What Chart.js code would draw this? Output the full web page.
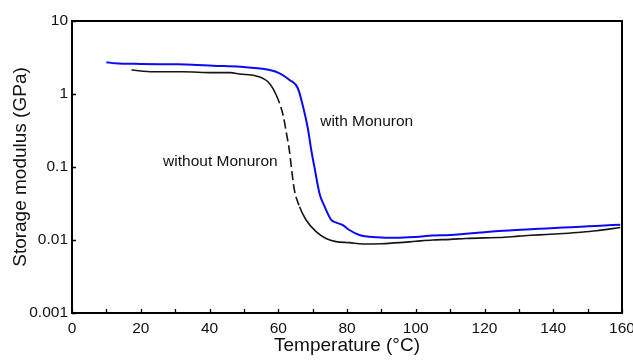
<!DOCTYPE html>
<html>
<head>
<meta charset="utf-8">
<script src="https://cdn.jsdelivr.net/npm/chart.js@4/dist/chart.umd.min.js"></script>
<style>
  html, body { margin: 0; padding: 0; background: #fff; }
  #wrap { width: 633px; height: 362px; position: relative; }
</style>
</head>
<body>
<div id="wrap"><canvas id="c" width="633" height="362"></canvas></div>
<script>
// ---- data ----
const withTemp = [10, 12.5, 20, 30, 35, 41, 49, 54, 57.5, 60.4, 63.3, 65.7, 67.1, 68.6, 69.6, 70.5, 72, 73.5, 75.4, 76.9, 78.8, 80.7, 83.6, 88.8, 94.3, 100, 104.9, 110, 114.6, 120, 124.3, 128, 133.5, 138, 143, 148, 152.5, 159.5];
const withModulus = [2.72, 2.64, 2.58, 2.55, 2.52, 2.44, 2.37, 2.25, 2.13, 1.92, 1.56, 1.2, 0.706, 0.339, 0.171, 0.101, 0.0435, 0.0286, 0.0188, 0.0173, 0.016, 0.0137, 0.0117, 0.0109, 0.0107, 0.0110, 0.0115, 0.0117, 0.0122, 0.0128, 0.0133, 0.0136, 0.0140, 0.0144, 0.0148, 0.0152, 0.0156, 0.0162];

const withoutTemp = [17.3, 23.6, 32.3, 41, 46, 48.8, 53.6, 57, 59.4, 61.4, 62.3, 63.3, 63.8, 64.7, 66.2, 68.1, 71, 73.9, 76.8, 80.7, 84.6, 90, 95.2, 100, 104.9, 110, 114.6, 120, 124.3, 130, 133.5, 138, 143, 148, 152.5, 159.5];
const withoutModulus = [2.13, 2.02, 2.02, 1.96, 1.96, 1.88, 1.77, 1.47, 0.97, 0.515, 0.305, 0.16, 0.1, 0.0484, 0.0286, 0.0188, 0.013, 0.0105, 0.0095, 0.0092, 0.0088, 0.0089, 0.0092, 0.0096, 0.0100, 0.0102, 0.0105, 0.0107, 0.0108, 0.0113, 0.0116, 0.0119, 0.0123, 0.0128, 0.0134, 0.0148];

const xTickValues = [0, 20, 40, 60, 80, 100, 120, 140, 160];
const xMinorTicks = [0, 10, 20, 30, 40, 50, 60, 70, 80, 90, 100, 110, 120, 130, 140, 150, 160];
const yTickValues = [0.001, 0.01, 0.1, 1, 10];
const yTickLabels = ['0.001', '0.01', '0.1', '1', '10'];

const seriesNames = ['with Monuron', 'without Monuron'];
const labelAnchorTemp = [72.2, 26.5];
const labelAnchorModulus = [0.365, 0.103];

// dashed part of the "without" curve (temperature range)
const dashedRange = [59, 66.5];

const FONT = '"Liberation Sans", Arial, sans-serif';

function pts(xs, ys) { return xs.map((x, i) => ({ x: x, y: ys[i] })); }

const framePlugin = {
  id: 'frame',
  afterDatasetsDraw(chart) {
    const ctx = chart.ctx;
    const a = chart.chartArea;
    const xs = chart.scales.x, ys = chart.scales.y;
    ctx.save();
    ctx.strokeStyle = '#000';
    ctx.lineWidth = 2;
    ctx.strokeRect(a.left, a.top, a.right - a.left, a.bottom - a.top);
    ctx.lineWidth = 1.3;
    ctx.beginPath();
    xMinorTicks.forEach(v => {
      const px = Math.round(xs.getPixelForValue(v)) + 0.5;
      ctx.moveTo(px, a.bottom);
      ctx.lineTo(px, a.bottom - 4);
    });
    yTickValues.forEach(v => {
      const py = Math.round(ys.getPixelForValue(v)) + 0.5;
      ctx.moveTo(a.left, py);
      ctx.lineTo(a.left + 4, py);
    });
    ctx.stroke();
    ctx.fillStyle = '#111';
    ctx.font = '15.5px ' + FONT;
    ctx.textBaseline = 'alphabetic';
    ctx.textAlign = 'left';
    seriesNames.forEach((n, i) => {
      ctx.fillText(n, xs.getPixelForValue(labelAnchorTemp[i]), ys.getPixelForValue(labelAnchorModulus[i]));
    });
    ctx.restore();
  }
};

new Chart(document.getElementById('c'), {
  type: 'line',
  data: {
    datasets: [
      {
        label: seriesNames[1],
        data: pts(withoutTemp, withoutModulus),
        borderColor: '#151515',
        borderWidth: 1.6,
        pointRadius: 0,
        cubicInterpolationMode: 'monotone',
        segment: {
          borderDash: c => (c.p0.parsed.x >= dashedRange[0] && c.p1.parsed.x <= dashedRange[1]) ? [9, 4] : undefined
        }
      },
      {
        label: seriesNames[0],
        data: pts(withTemp, withModulus),
        borderColor: '#0b0bf2',
        borderWidth: 2,
        pointRadius: 0,
        cubicInterpolationMode: 'monotone'
      }
    ]
  },
  options: {
    responsive: false,
    animation: false,
    devicePixelRatio: 1,
    layout: { padding: { top: 21, right: 11, left: 0, bottom: 0 } },
    plugins: { legend: { display: false }, tooltip: { enabled: false } },
    scales: {
      x: {
        type: 'linear',
        min: 0, max: 160,
        afterBuildTicks: s => { s.ticks = xTickValues.map(v => ({ value: v })); },
        afterFit: s => { s.height = 49; s.paddingLeft = 0; s.paddingRight = 0; },
        grid: { display: true, drawOnChartArea: false, drawTicks: false },
        border: { display: false },
        ticks: { color: '#111', font: { family: FONT, size: 15.5 }, padding: 6, maxRotation: 0 },
        title: { display: true, text: 'Temperature (°C)', color: '#111', font: { family: FONT, size: 19 }, padding: { top: 0, bottom: 4.5 } }
      },
      y: {
        type: 'logarithmic',
        min: 0.001, max: 10,
        afterBuildTicks: s => { s.ticks = yTickValues.map(v => ({ value: v })); },
        afterFit: s => { s.width = 72; s.paddingTop = 0; s.paddingBottom = 0; },
        grid: { display: true, drawOnChartArea: false, drawTicks: false },
        border: { display: false },
        ticks: {
          color: '#111', font: { family: FONT, size: 15.5 }, padding: 4,
          callback: (v) => { const i = yTickValues.indexOf(v); return i >= 0 ? yTickLabels[i] : ''; }
        },
        title: { display: true, text: 'Storage modulus (GPa)', color: '#111', font: { family: FONT, size: 19 }, padding: { top: 9.5, bottom: 0 } }
      }
    }
  },
  plugins: [framePlugin]
});
</script>
</body>
</html>
